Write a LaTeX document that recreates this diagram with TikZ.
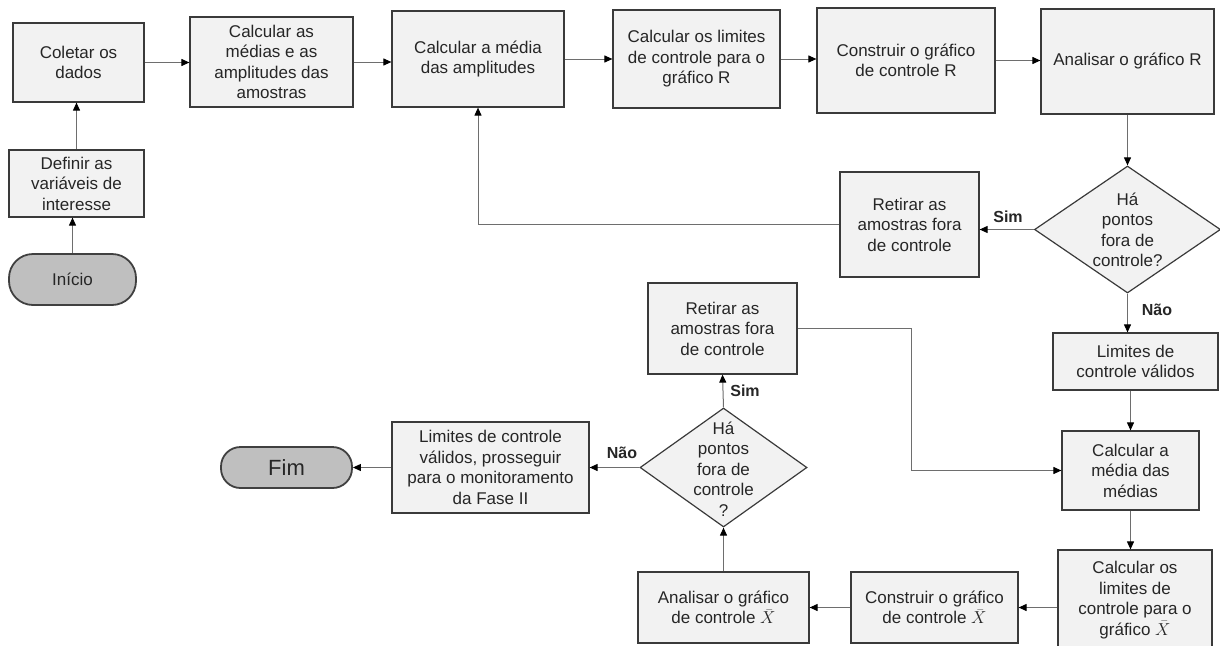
\documentclass[tikz,border=0pt]{standalone}
\usepackage{fontspec}
\setmainfont{Liberation Sans}
\usetikzlibrary{arrows.meta,shapes.geometric}
\definecolor{boxfill}{HTML}{F2F2F2}
\definecolor{boxline}{HTML}{3A3A3A}
\definecolor{termfill}{HTML}{BFBFBF}
\definecolor{termline}{HTML}{404040}
\definecolor{linecol}{HTML}{6E6E6E}
\definecolor{txt}{HTML}{262626}
\newcommand{\xbarsym}{$\smash{\bar{X}}$}
\begin{document}
\begin{tikzpicture}[x=1pt,y=-1pt,
  box/.style={draw=boxline, fill=boxfill, line width=1.2pt, align=center, text=txt,
    font=\fontsize{17}{20.5}\selectfont, inner sep=2pt},
  term/.style={draw=termline, fill=termfill, line width=1.8pt, rounded corners=#1, text=txt, inner sep=2pt},
  diam/.style={diamond, draw=boxline, fill=boxfill, line width=1.2pt, inner sep=0pt},
  dtext/.style={align=center, text=txt, font=\fontsize{17}{20.5}\selectfont},
  conn/.style={draw=linecol, line width=1pt, -{Triangle[length=8pt,width=7pt,color=black]}},
  lab/.style={font=\bfseries\fontsize{16}{19}\selectfont, text=txt}
]
\useasboundingbox (0,0) rectangle (1220,645);

% top row
\node[box, minimum width=131, minimum height=79] (coletar) at (78.5,62.5) {Coletar os\\dados};
\node[box, minimum width=163, minimum height=90] (medias) at (271.5,62) {Calcular as\\médias e as\\amplitudes das\\amostras};
\node[box, minimum width=172, minimum height=96] (mediaamp) at (478,59) {Calcular a média\\das amplitudes};
\node[box, minimum width=167, minimum height=98] (limR) at (696.5,59) {Calcular os limites\\de controle para o\\gráfico R};
\node[box, minimum width=178, minimum height=105] (constR) at (906,60.5) {Construir o gráfico\\de controle R};
\node[box, minimum width=173, minimum height=105] (anaR) at (1127.5,61.5) {Analisar o gráfico R};

% left column
\node[box, minimum width=135, minimum height=67] (definir) at (76.5,183.5) {Definir as\\variáveis de\\interesse};
\node[term=24pt, minimum width=127, minimum height=51, font=\fontsize{17}{20.5}\selectfont] (inicio) at (72.5,279.5) {Início};

% first decision
\node[diam, minimum width=186, minimum height=127] (d1) at (1127.5,229.5) {};
\node[dtext] (d1t) at (1127.5,230) {Há\\pontos\\fora de\\controle?};
\node[box, minimum width=139, minimum height=105] (ret1) at (909.5,224.5) {Retirar as\\amostras fora\\de controle};
\node[box, minimum width=165, minimum height=57] (limval) at (1135.5,361.5) {Limites de\\controle válidos};
\node[box, minimum width=137, minimum height=79] (mediamed) at (1130.5,470.5) {Calcular a\\média das\\médias};
\node[box, minimum width=154, minimum height=100] (limX) at (1135,600) {Calcular os\\limites de\\controle para o\\gráfico \xbarsym};
\node[box, minimum width=167, minimum height=71] (constX) at (934.5,607.5) {Construir o gráfico\\de controle \xbarsym};
\node[box, minimum width=171, minimum height=71] (anaX) at (723.5,607.5) {Analisar o gráfico\\de controle \xbarsym};

% second decision
\node[diam, minimum width=167, minimum height=119] (d2) at (723.5,467.5) {};
\node[dtext] (d2t) at (723.5,469) {Há\\pontos\\fora de\\controle\\?};
\node[box, minimum width=149, minimum height=91] (ret2) at (722.5,328.5) {Retirar as\\amostras fora\\de controle};
\node[box, minimum width=197, minimum height=91] (limfase) at (490.5,467.5) {Limites de controle\\válidos, prosseguir\\para o monitoramento\\da Fase II};
\node[term=19.5pt, minimum width=131, minimum height=41, font=\fontsize{22}{26}\selectfont] (fim) at (286.5,467.5) {Fim};

% labels
\node[lab] (sim1) at (1008,217) {Sim};
\node[lab] (nao1) at (1157,310) {Não};
\node[lab] (sim2) at (745,391) {Sim};
\node[lab] (nao2) at (622,453) {Não};

\coordinate (bendx) at (911,0);

% connectors
\draw[conn] (inicio.north) -- (inicio.north |- definir.south);
\draw[conn] (definir.north) -- (definir.north |- coletar.south);
\draw[conn] (coletar.east) -- (coletar.east -| medias.west);
\draw[conn] (medias.east) -- (medias.east -| mediaamp.west);
\draw[conn] (mediaamp.east) -- (mediaamp.east -| limR.west);
\draw[conn] (limR.east) -- (limR.east -| constR.west);
\draw[conn] (constR.east) -- (constR.east -| anaR.west);
\draw[conn] (anaR.south) -- (d1.north);
\draw[conn] (d1.west) -- (d1.west -| ret1.east);
\draw[conn] (ret1.west) -| (mediaamp.south);
\draw[conn] (d1.south) -- (d1.south |- limval.north);
\draw[conn] (limval.south -| mediamed.north) -- (mediamed.north);
\draw[conn] (mediamed.south) -- (mediamed.south |- limX.north);
\draw[conn] (constX.east -| limX.west) -- (constX.east);
\draw[conn] (constX.west) -- (anaX.east);
\draw[conn] (anaX.north) -- (d2.south);
\draw[conn] (d2.north) -- (ret2.south);
\draw[conn] (ret2.east) -- (ret2.east -| bendx) |- (mediamed.west);
\draw[conn] (d2.west) -- (d2.west -| limfase.east);
\draw[conn] (limfase.west) -- (limfase.west -| fim.east);
\end{tikzpicture}
\end{document}
